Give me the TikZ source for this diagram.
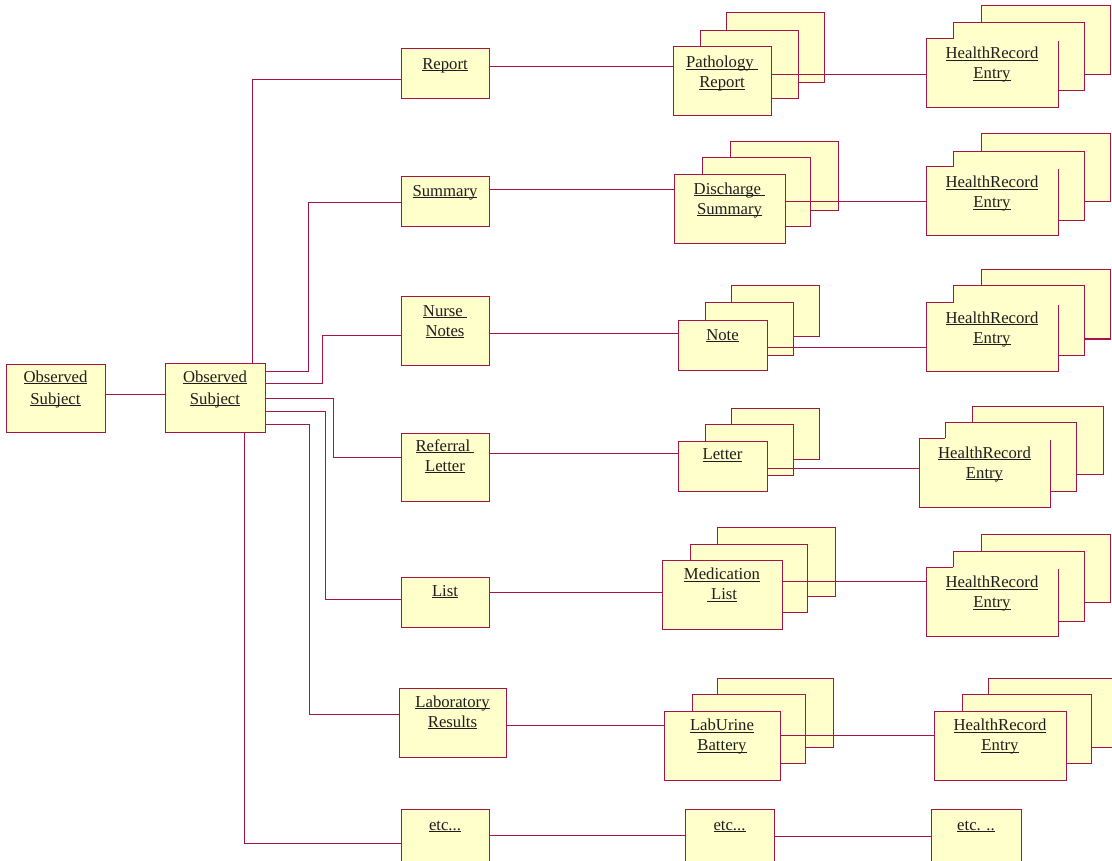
\documentclass[tikz,border=0pt]{standalone}
\usepackage{fontspec}
\setmainfont{Liberation Serif}
\definecolor{bord}{RGB}{165,20,70}
\definecolor{boxfill}{RGB}{255,255,204}
\definecolor{txt}{RGB}{30,30,30}
\newcommand\uln[1]{\setbox0=\hbox{#1}\rlap{\rule[-1.6pt]{\wd0}{0.7pt}}\box0}
\newcommand\tp{\rule{0pt}{14pt}}
\tikzset{
  box/.style={draw=bord, fill=boxfill, line width=1pt, inner sep=0pt, outer sep=0pt},
  boxfillonly/.style={fill=boxfill, inner sep=0pt, outer sep=0pt},
  lbl/.style={anchor=north, inner sep=0pt, align=center, text=txt, font=\fontsize{16.7}{20}\selectfont},
  lblwide/.style={lbl, font=\fontsize{16.7}{22}\selectfont},
  conn/.style={draw=bord, line width=1pt},
}
% \bx[style]{name}{x1}{y1}{x2}{y2}
\newcommand\bx[6][box]{\node[#1, minimum width={(#5-#3)*1pt}, minimum height={(#6-#4)*1pt}] (#2) at ({(#3+#5)/2},{(#4+#6)/2}) {};}
% partial outline of a front HealthRecord box: top edge stops at middle box
\newcommand\hrout[2]{\draw[conn] (#2.west |- #1.north) -- (#1.north west) -- (#1.south west) -- (#1.south east) -- ([yshift=-2pt]#1.north east);}
\begin{document}
\begin{tikzpicture}[x=1pt,y=-1pt]
\useasboundingbox (0,0) rectangle (1112,861);
\fill[white] (0,0) rectangle (1112,861);
\clip (0,0) rectangle (1112,861);

% ---- left column
\bx{os1}{6}{364}{105}{432}
\bx{os2}{165}{363}{265}{432}
\bx{report}{401}{49}{489}{99}
\bx{summary}{401}{177}{489}{227}
\bx{nurse}{401}{297}{489}{365}
\bx{referral}{401}{433}{489}{501}
\bx{list}{401}{577}{489}{627}
\bx{lab}{399}{688}{506}{757}
\bx{etca}{401}{809}{489}{880}

% ---- middle column stacks
\bx{pathb}{726}{13}{824}{83}
\bx{pathm}{700}{31}{798}{99}
\bx{pathf}{673}{47}{771}{116}
\bx{discb}{730}{142}{838}{211}
\bx{discm}{702}{158}{810}{227}
\bx{discf}{674}{175}{785}{244}
\bx{noteb}{731}{286}{819}{337}
\bx{notem}{705}{303}{793}{355}
\bx{notef}{678}{321}{767}{370}
\bx{letb}{731}{408}{819}{459}
\bx{letm}{705}{424}{793}{475}
\bx{letf}{678}{441}{767}{491}
\bx{medb}{717}{527}{835}{596}
\bx{medm}{690}{544}{807}{612}
\bx{medf}{662}{560}{782}{629}
\bx{urib}{717}{678}{833}{747}
\bx{urim}{692}{694}{805}{763}
\bx{urif}{664}{711}{780}{780}
\bx{etcb}{685}{809}{774}{880}

% ---- right column stacks
\bx{hra}{981}{6}{1110}{75}
\bx{hram}{953}{23}{1084}{91}
\bx[boxfillonly]{hraf}{926}{39}{1058}{108}
\hrout{hraf}{hram}
\bx{hrb}{981}{134}{1110}{202}
\bx{hrbm}{953}{152}{1084}{221}
\bx[boxfillonly]{hrbf}{926}{167}{1058}{236}
\hrout{hrbf}{hrbm}
\bx{hrc}{981}{270}{1110}{339}
\bx{hrcm}{953}{286}{1084}{355}
\bx[boxfillonly]{hrcf}{926}{303}{1058}{371}
\hrout{hrcf}{hrcm}
\bx{hrd}{972}{406}{1103}{474}
\bx{hrdm}{945}{422}{1076}{491}
\bx[boxfillonly]{hrdf}{919}{438}{1050}{507}
\hrout{hrdf}{hrdm}
\bx{hre}{981}{534}{1110}{602}
\bx{hrem}{953}{551}{1084}{621}
\bx[boxfillonly]{href}{926}{567}{1058}{636}
\hrout{href}{hrem}
\bx{hrg}{988}{678}{1122}{747}
\bx{hrgm}{962}{694}{1091}{763}
\bx{hrgf}{934}{711}{1066}{780}
\bx{etcc}{931}{809}{1021}{880}

% ---- connectors from Observed Subject
\draw[conn] (os1.east |- 0,394) -- (os2.west |- 0,394);
\draw[conn] (os2.north -| 252,0) |- (report.west |- 0,80);
\draw[conn] (os2.east |- 0,371) -| (308,203) -- (summary.west |- 0,203);
\draw[conn] (os2.east |- 0,383) -| (322,336) -- (nurse.west |- 0,336);
\draw[conn] (os2.east |- 0,398) -| (333,457) -- (referral.west |- 0,457);
\draw[conn] (os2.east |- 0,411) -| (325,599) -- (list.west |- 0,599);
\draw[conn] (os2.east |- 0,424) -| (309,714) -- (lab.west |- 0,714);
\draw[conn] (os2.south -| 244,0) |- (etca.west |- 0,843);

% ---- row connectors
\draw[conn] (report.east |- 0,66.7) -- (pathf.west |- 0,66.7);
\draw[conn] (pathf.east |- 0,74.7) -- (hraf.west |- 0,74.7);
\draw[conn] (summary.east |- 0,190) -- (discf.west |- 0,190);
\draw[conn] (discf.east |- 0,201.3) -- (hrbf.west |- 0,201.3);
\draw[conn] (nurse.east |- 0,334) -- (notef.west |- 0,334);
\draw[conn] (notef.east |- 0,347) -- (hrcf.west |- 0,347);
\draw[conn] (referral.east |- 0,453.3) -- (letf.west |- 0,453.3);
\draw[conn] (letf.east |- 0,468.3) -- (hrdf.west |- 0,468.3);
\draw[conn] (list.east |- 0,592.7) -- (medf.west |- 0,592.7);
\draw[conn] (medf.east |- 0,581.3) -- (href.west |- 0,581.3);
\draw[conn] (lab.east |- 0,725.7) -- (urif.west |- 0,725.7);
\draw[conn] (urif.east |- 0,735.7) -- (hrgf.west |- 0,735.7);
\draw[conn] (etca.east |- 0,835.3) -- (etcb.west |- 0,835.3);
\draw[conn] (etcb.east |- 0,836.7) -- (etcc.west |- 0,836.7);

% ---- texts
\node[lblwide] (tos1) at (os1 |- 0,368) {\tp\uln{Observed}\\\uln{Subject}};
\node[lblwide] (tos2) at (os2 |- 0,368) {\tp\uln{Observed}\\\uln{Subject}};
\node[lbl] (treport) at (report |- 0,55) {\tp\uln{Report}};
\node[lbl] (tsummary) at (summary |- 0,182) {\tp\uln{Summary}};
\node[lbl] (tnurse) at (nurse |- 0,302) {\tp\uln{Nurse\ }\\\uln{Notes}};
\node[lbl] (treferral) at (referral |- 0,437) {\tp\uln{Referral\ }\\\uln{Letter}};
\node[lbl] (tlist) at (list |- 0,582) {\tp\uln{List}};
\node[lbl] (tlab) at (lab |- 0,693) {\tp\uln{Laboratory}\\\uln{Results}};
\node[lbl] (tetca) at (etca |- 0,816) {\tp\uln{etc...}};

\node[lbl] (tpath) at (pathf |- 0,53.5) {\tp\uln{Pathology\ }\\\uln{Report}};
\node[lbl] (tdisc) at (discf |- 0,180) {\tp\uln{Discharge\ }\\\uln{Summary}};
\node[lbl] (tnote) at (notef |- 0,326) {\tp\uln{Note}};
\node[lbl] (tlet) at (letf |- 0,445.5) {\tp\uln{Letter}};
\node[lbl] (tmed) at (medf |- 0,565.5) {\tp\uln{Medication}\\\uln{\ List}};
\node[lbl] (turi) at (urif |- 0,716.5) {\tp\uln{LabUrine}\\\uln{Battery}};
\node[lbl] (tetcb) at (etcb |- 0,816) {\tp\uln{etc...}};

\node[lbl] (thra) at (hraf |- 0,44.5) {\tp\uln{HealthRecord}\\\uln{Entry}};
\node[lbl] (thrb) at (hrbf |- 0,173.5) {\tp\uln{HealthRecord}\\\uln{Entry}};
\node[lbl] (thrc) at (hrcf |- 0,309) {\tp\uln{HealthRecord}\\\uln{Entry}};
\node[lbl] (thrd) at (hrdf |- 0,444) {\tp\uln{HealthRecord}\\\uln{Entry}};
\node[lbl] (thre) at (href |- 0,573.5) {\tp\uln{HealthRecord}\\\uln{Entry}};
\node[lbl] (thrg) at (hrgf |- 0,716.5) {\tp\uln{HealthRecord}\\\uln{Entry}};
\node[lbl] (tetcc) at (etcc |- 0,816) {\tp\uln{etc. ..}};
\end{tikzpicture}
\end{document}
